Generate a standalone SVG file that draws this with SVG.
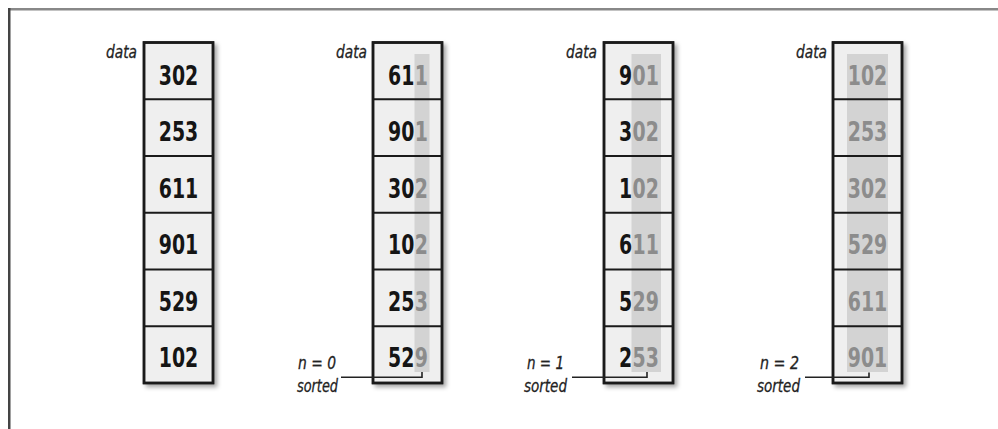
<svg xmlns="http://www.w3.org/2000/svg" width="998" height="429" viewBox="0 0 998 429">
<style>
.box{fill:#efefef;stroke:#1a1a1a;stroke-width:2.5}
.edge{fill:none;stroke:#1a1a1a;stroke-width:2.5}
.div{stroke:#1a1a1a;stroke-width:2.2}
.stripe{fill:#d3d3d3}
.num{font-family:"DejaVu Sans Condensed","DejaVu Sans",sans-serif;font-weight:bold;font-size:21px;fill:#151515}
.mid{text-anchor:middle}
.g{fill:#8c8c8c}
.lbl{font-family:"DejaVu Sans Condensed","DejaVu Sans",sans-serif;font-style:italic;font-size:18px;fill:#222;stroke:#222;stroke-width:0.3;text-anchor:end}
.lead{fill:none;stroke:#222;stroke-width:1.6}
</style>
<defs>
<filter id="sh" x="-20%" y="-10%" width="150%" height="130%">
<feDropShadow dx="3" dy="3" stdDeviation="2" flood-color="#000" flood-opacity="0.35"/>
</filter>
<g id="divs">
<line class="div" x1="0" y1="99.25" x2="69" y2="99.25"/>
<line class="div" x1="0" y1="156" x2="69" y2="156"/>
<line class="div" x1="0" y1="212.75" x2="69" y2="212.75"/>
<line class="div" x1="0" y1="269.5" x2="69" y2="269.5"/>
<line class="div" x1="0" y1="326.25" x2="69" y2="326.25"/>
</g>
</defs>
<rect x="8" y="8" width="990" height="2.5" fill="#888"/>
<rect x="8" y="8" width="2.5" height="421" fill="#444"/>

<g id="col1">
<rect class="box" x="144" y="42.5" width="69" height="340.5" filter="url(#sh)"/>
<use href="#divs" x="144"/>
<rect class="edge" x="144" y="42.5" width="69" height="340.5"/>
<text class="lbl" x="137" y="58" textLength="31" lengthAdjust="spacingAndGlyphs">data</text>
<text class="num mid" transform="matrix(1 0 0 1.28 178.5 84.5)">302</text>
<text class="num mid" transform="matrix(1 0 0 1.28 178.5 141)">253</text>
<text class="num mid" transform="matrix(1 0 0 1.28 178.5 197.5)">611</text>
<text class="num mid" transform="matrix(1 0 0 1.28 178.5 254)">901</text>
<text class="num mid" transform="matrix(1 0 0 1.28 178.5 310.5)">529</text>
<text class="num mid" transform="matrix(1 0 0 1.28 178.5 367)">102</text>
</g>

<g id="col2">
<rect class="box" x="373" y="42.5" width="69" height="340.5" filter="url(#sh)"/>
<rect class="stripe" x="414.5" y="54" width="15" height="318"/>
<use href="#divs" x="373"/>
<rect class="edge" x="373" y="42.5" width="69" height="340.5"/>
<text class="lbl" x="367" y="58" textLength="31" lengthAdjust="spacingAndGlyphs">data</text>
<text class="num" transform="matrix(1 0 0 1.28 388 84.5)">61</text>
<text class="num g" transform="matrix(1 0 0 1.28 414.8 84.5)">1</text>
<text class="num" transform="matrix(1 0 0 1.28 388 141)">90</text>
<text class="num g" transform="matrix(1 0 0 1.28 414.8 141)">1</text>
<text class="num" transform="matrix(1 0 0 1.28 388 197.5)">30</text>
<text class="num g" transform="matrix(1 0 0 1.28 414.8 197.5)">2</text>
<text class="num" transform="matrix(1 0 0 1.28 388 254)">10</text>
<text class="num g" transform="matrix(1 0 0 1.28 414.8 254)">2</text>
<text class="num" transform="matrix(1 0 0 1.28 388 310.5)">25</text>
<text class="num g" transform="matrix(1 0 0 1.28 414.8 310.5)">3</text>
<text class="num" transform="matrix(1 0 0 1.28 388 367)">52</text>
<text class="num g" transform="matrix(1 0 0 1.28 414.8 367)">9</text>
<text class="lbl" x="336" y="369" textLength="38" lengthAdjust="spacingAndGlyphs">n = 0</text>
<text class="lbl" x="338" y="392" textLength="41" lengthAdjust="spacingAndGlyphs">sorted</text>
</g>

<g id="col3">
<rect class="box" x="604" y="42.5" width="69" height="340.5" filter="url(#sh)"/>
<rect class="stripe" x="631.5" y="54" width="29.5" height="318"/>
<use href="#divs" x="604"/>
<rect class="edge" x="604" y="42.5" width="69" height="340.5"/>
<text class="lbl" x="597" y="58" textLength="31" lengthAdjust="spacingAndGlyphs">data</text>
<text class="num" transform="matrix(1 0 0 1.28 619 84.5)">9</text>
<text class="num g" transform="matrix(1 0 0 1.28 632.6 84.5)">01</text>
<text class="num" transform="matrix(1 0 0 1.28 619 141)">3</text>
<text class="num g" transform="matrix(1 0 0 1.28 632.6 141)">02</text>
<text class="num" transform="matrix(1 0 0 1.28 619 197.5)">1</text>
<text class="num g" transform="matrix(1 0 0 1.28 632.6 197.5)">02</text>
<text class="num" transform="matrix(1 0 0 1.28 619 254)">6</text>
<text class="num g" transform="matrix(1 0 0 1.28 632.6 254)">11</text>
<text class="num" transform="matrix(1 0 0 1.28 619 310.5)">5</text>
<text class="num g" transform="matrix(1 0 0 1.28 632.6 310.5)">29</text>
<text class="num" transform="matrix(1 0 0 1.28 619 367)">2</text>
<text class="num g" transform="matrix(1 0 0 1.28 632.6 367)">53</text>
<text class="lbl" x="564" y="369" textLength="37" lengthAdjust="spacingAndGlyphs">n = 1</text>
<text class="lbl" x="567" y="392" textLength="43" lengthAdjust="spacingAndGlyphs">sorted</text>
</g>

<g id="col4">
<rect class="box" x="833" y="42.5" width="69" height="340.5" filter="url(#sh)"/>
<rect class="stripe" x="847" y="54" width="41" height="318"/>
<use href="#divs" x="833"/>
<rect class="edge" x="833" y="42.5" width="69" height="340.5"/>
<text class="lbl" x="827" y="58" textLength="31" lengthAdjust="spacingAndGlyphs">data</text>
<text class="num mid g" transform="matrix(1 0 0 1.28 867.5 84.5)">102</text>
<text class="num mid g" transform="matrix(1 0 0 1.28 867.5 141)">253</text>
<text class="num mid g" transform="matrix(1 0 0 1.28 867.5 197.5)">302</text>
<text class="num mid g" transform="matrix(1 0 0 1.28 867.5 254)">529</text>
<text class="num mid g" transform="matrix(1 0 0 1.28 867.5 310.5)">611</text>
<text class="num mid g" transform="matrix(1 0 0 1.28 867.5 367)">901</text>
<text class="lbl" x="799" y="369" textLength="39" lengthAdjust="spacingAndGlyphs">n = 2</text>
<text class="lbl" x="800" y="392" textLength="43" lengthAdjust="spacingAndGlyphs">sorted</text>
</g>

<g id="connectors">
<path class="lead" d="M341 377.3 H422 V372"/>
<path class="lead" d="M572 377.3 H647 V372"/>
<path class="lead" d="M805 377.3 H869 V372.5"/>
</g>
</svg>
